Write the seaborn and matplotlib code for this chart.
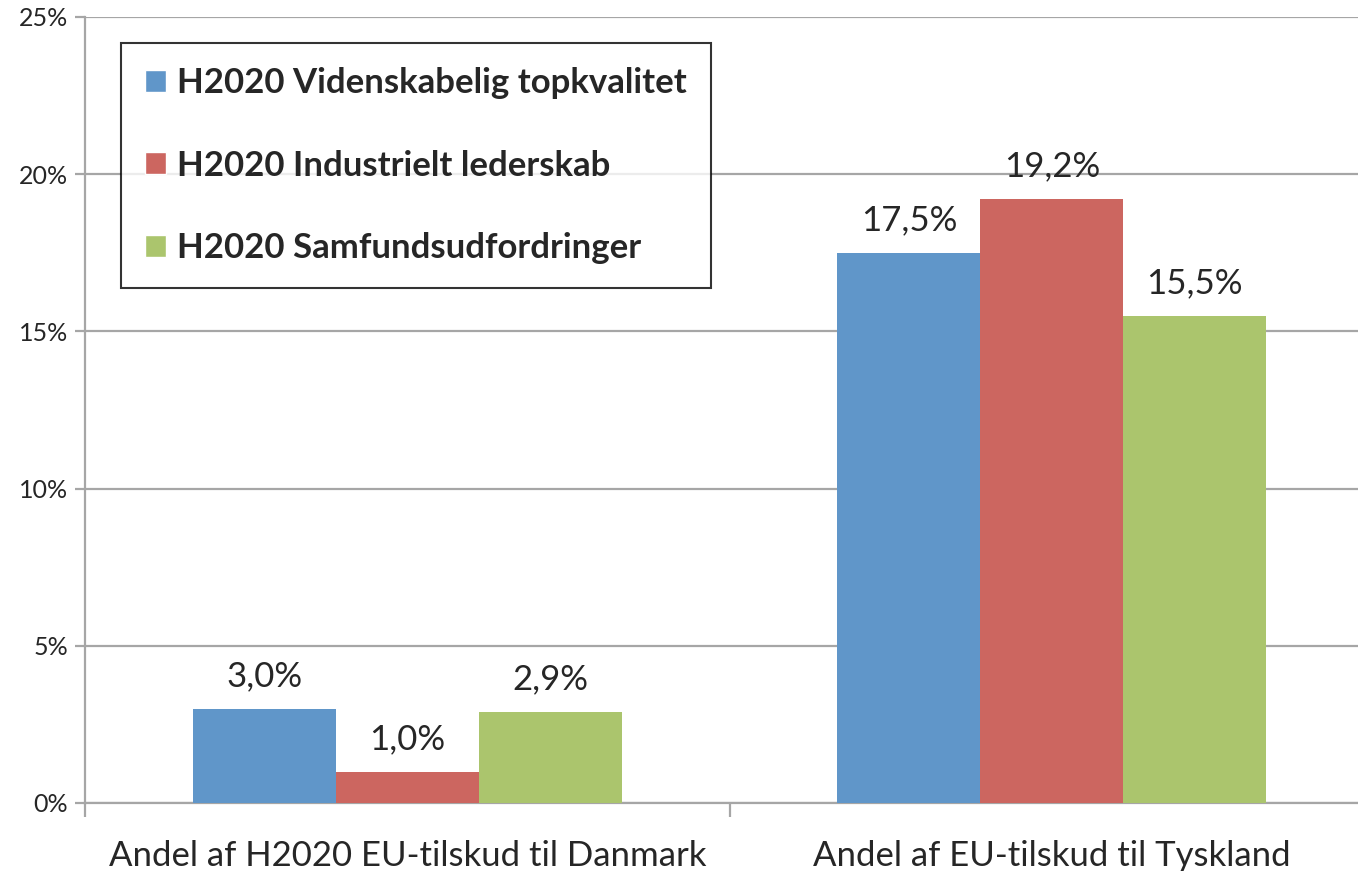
import pandas as pd
import numpy as np
import matplotlib
matplotlib.use("Agg")
import matplotlib.pyplot as plt
import seaborn as sns
from matplotlib.ticker import FuncFormatter

categories = ['Andel af H2020 EU-tilskud til Danmark', 'Andel af EU-tilskud til Tyskland']
series = ['H2020 Videnskabelig topkvalitet', 'H2020 Industrielt lederskab', 'H2020 Samfundsudfordringer']
vals_top = [3.0, 17.5]
vals_ind = [1.0, 19.2]
vals_sam = [2.9, 15.5]
colors = ['#6096c9', '#cc6660', '#abc56d']

df = pd.DataFrame({
    'kategori': categories * 3,
    'serie': [series[0]] * 2 + [series[1]] * 2 + [series[2]] * 2,
    'andel': vals_top + vals_ind + vals_sam,
})

sns.set_style('white')
plt.rcParams['font.family'] = ['Lato', 'DejaVu Sans']

fig = plt.figure(figsize=(13.58, 8.71), dpi=100)
ax = fig.add_axes([0.0626, 0.0781, 0.9492, 0.9024])

sns.barplot(data=df, x='kategori', y='andel', hue='serie', palette=colors,
            width=0.665, gap=0, saturation=1, ax=ax, zorder=3)

for cont in ax.containers:
    for bar in cont:
        bar.set_edgecolor('none')
    ax.bar_label(cont, labels=[f"{v:.1f}%".replace('.', ',') for v in cont.datavalues],
                 padding=12, fontsize=25)

ax.set_xlim(-0.5, 1.5)
ax.set_ylim(0, 25)
ax.set_yticks([0, 5, 10, 15, 20, 25])
ax.yaxis.set_major_formatter(FuncFormatter(lambda v, p: f"{v:.0f}%"))
ax.yaxis.grid(True, color='#a6a6a6', linewidth=1.6, zorder=0)
ax.set_axisbelow(True)

for s in ['top', 'right']:
    ax.spines[s].set_visible(False)
for s in ['left', 'bottom']:
    ax.spines[s].set_color('#a6a6a6')
    ax.spines[s].set_linewidth(1.6)

ax.tick_params(axis='y', length=7, width=1.6, color='#a6a6a6', labelsize=18, pad=5, left=True)
ax.set_xticks([0, 1])
ax.set_xticklabels(categories)
ax.tick_params(axis='x', length=0, labelsize=25, pad=27)
ax.set_xticks([-0.5, 0.5, 1.5], minor=True)
ax.tick_params(axis='x', which='minor', length=10, width=1.6, color='#a6a6a6', bottom=True)
ax.set_xlabel('')
ax.set_ylabel('')

leg = ax.legend(loc='upper left', bbox_to_anchor=(0.028, 0.967), frameon=True, fancybox=False,
                edgecolor='black', prop={'weight': 'bold', 'size': 25},
                handlelength=0.6, handleheight=0.6, handletextpad=0.3,
                labelspacing=1.45, borderpad=0.7, borderaxespad=0)
leg.get_frame().set_linewidth(1.5)
leg.set_zorder(5)

fig.savefig('out.png', dpi=100)
